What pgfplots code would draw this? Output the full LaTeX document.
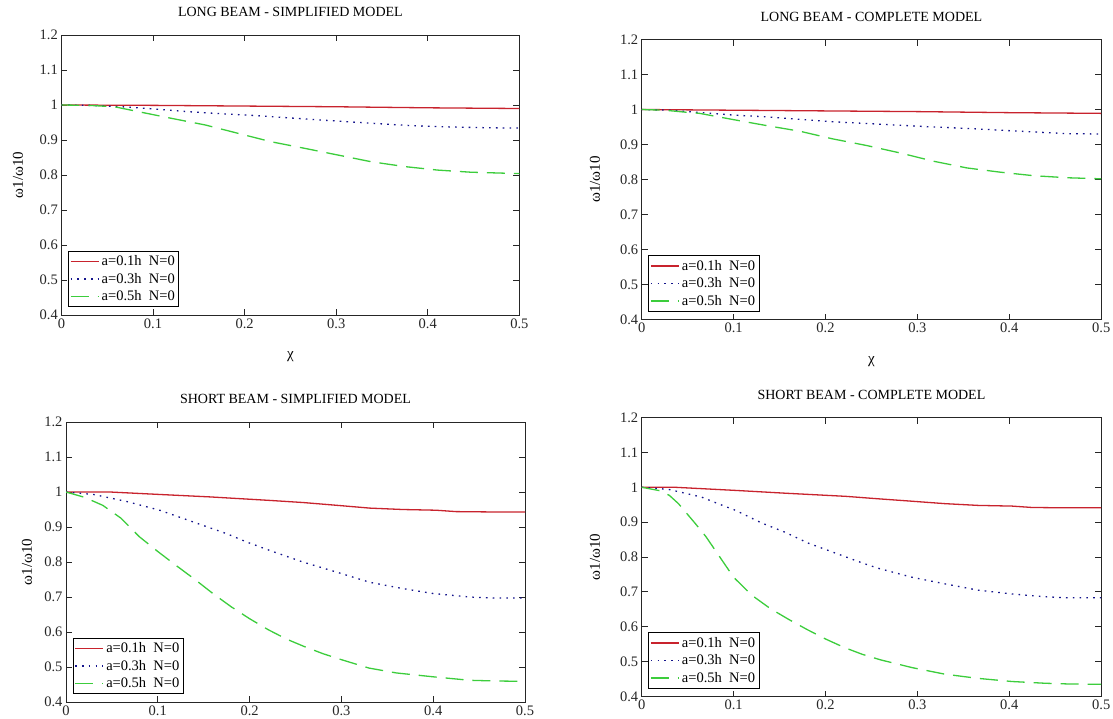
\documentclass[border=0pt]{standalone}
\usepackage{fontspec}
\setmainfont{Liberation Serif}
\usepackage{pgfplots}
\pgfplotsset{compat=1.18}
\definecolor{cred}{RGB}{200,35,45}
\definecolor{cblue}{RGB}{20,20,140}
\definecolor{cgreen}{RGB}{60,205,60}
\newcommand{\myfs}{\fontsize{14.5}{16}\selectfont}
\newcommand{\mytfs}{\fontsize{14}{16}\selectfont}
\newcommand{\mylfs}{\fontsize{15}{17}\selectfont}
\pgfplotsset{
  beam/.style={
    scale only axis, xmin=0, xmax=0.5, ymin=0.4, ymax=1.2,
    xtick={0,0.1,0.2,0.3,0.4,0.5},
    ytick={0.4,0.5,0.6,0.7,0.8,0.9,1,1.1,1.2},
    tick align=inside, major tick length=6pt,
    axis line style={line width=1pt, color=black!85},
    every tick/.style={line width=1pt, black!85},
    /pgf/number format/assume math mode=true,
    tick label style={font=\myfs, text=black!85},
    title style={at={(0.5,1)}, anchor=center, yshift=17pt, font=\mytfs},
    ylabel={ω1/ω10},
    legend style={at={(0,0)}, anchor=south west, xshift=6.5pt, yshift=7.7pt,
      draw=black, line width=0.9pt, font=\myfs, inner sep=1.5pt,
      nodes={inner xsep=2.5pt, inner ysep=3pt}, cells={anchor=west}},
    legend image code/.code={\draw[##1] (0pt,0pt) -- (28pt,0pt);},
  },
  xlab/.style={xlabel={χ}, xlabel style={at={(axis description cs:0.5,-0.15)}, anchor=center, font=\mylfs}},
  sred/.style={cred, line width=1.3pt},
  sblue/.style={cblue, line width=1.3pt, dash pattern=on 1.6pt off 5.2pt},
  sgreen/.style={cgreen, line width=1.3pt, dash pattern=on 18pt off 9pt},
}
\begin{document}
\begin{tikzpicture}
\useasboundingbox (0pt,0pt) rectangle (1113pt,-718pt);
\clip (0pt,0pt) rectangle (1113pt,-718pt);
% ---------- Panel 1 ----------
\begin{axis}[beam, xlab, width=458pt, height=280pt, at={(61.4pt,-315pt)}, anchor=south west,
  ylabel style={at={(axis description cs:-0.095,0.5)}, anchor=center, font=\mylfs},
  title={LONG BEAM - SIMPLIFIED MODEL}]
\addplot[sred] coordinates {(0,1.000)(0.1,0.999)(0.2,0.997)(0.3,0.995)(0.4,0.992)(0.5,0.990)};
\addplot[sblue] coordinates {(0,1.000)(0.03,0.999)(0.066,0.995)(0.1,0.989)(0.138,0.981)(0.175,0.975)(0.211,0.970)(0.25,0.963)(0.284,0.957)(0.32,0.951)(0.356,0.945)(0.39,0.940)(0.429,0.937)(0.466,0.935)(0.5,0.934)};
\addplot[sgreen] coordinates {(0,1.000)(0.03,0.999)(0.058,0.995)(0.084,0.981)(0.12,0.962)(0.157,0.943)(0.193,0.919)(0.229,0.895)(0.266,0.876)(0.302,0.857)(0.338,0.838)(0.375,0.824)(0.411,0.814)(0.447,0.808)(0.5,0.804)};
\legend{a=0.1h\ \ N=0, a=0.3h\ \ N=0, a=0.5h\ \ N=0}
\end{axis}
% ---------- Panel 2 ----------
\begin{axis}[beam, xlab, width=459.5pt, height=280pt, at={(641.7pt,-319.5pt)}, anchor=south west,
  ylabel style={at={(axis description cs:-0.1016,0.5)}, anchor=center, font=\mylfs},
  title={LONG BEAM - COMPLETE MODEL}]
\addplot[sred] coordinates {(0,1.000)(0.1,0.998)(0.2,0.996)(0.3,0.994)(0.4,0.991)(0.5,0.989)};
\addplot[sblue] coordinates {(0,1.000)(0.03,0.998)(0.056,0.993)(0.1,0.984)(0.136,0.979)(0.172,0.972)(0.208,0.965)(0.245,0.960)(0.281,0.955)(0.318,0.950)(0.354,0.946)(0.39,0.941)(0.426,0.936)(0.463,0.931)(0.5,0.930)};
\addplot[sgreen] coordinates {(0,1.000)(0.025,0.998)(0.045,0.993)(0.063,0.989)(0.1,0.971)(0.136,0.954)(0.172,0.938)(0.208,0.916)(0.245,0.897)(0.281,0.876)(0.318,0.852)(0.354,0.833)(0.39,0.821)(0.426,0.811)(0.463,0.805)(0.5,0.802)};
\legend{a=0.1h\ \ N=0, a=0.3h\ \ N=0, a=0.5h\ \ N=0}
\end{axis}
% ---------- Panel 3 ----------
\begin{axis}[beam, width=459pt, height=280pt, at={(66pt,-702pt)}, anchor=south west,
  ylabel style={at={(axis description cs:-0.085,0.5)}, anchor=center, font=\mylfs},
  title={SHORT BEAM - SIMPLIFIED MODEL}]
\addplot[sred] coordinates {(0,1.000)(0.048,1.000)(0.102,0.993)(0.157,0.986)(0.222,0.976)(0.258,0.970)(0.295,0.962)(0.331,0.954)(0.367,0.950)(0.403,0.948)(0.425,0.944)(0.465,0.943)(0.5,0.943)};
\addplot[sblue] coordinates {(0,1.000)(0.03,0.993)(0.066,0.973)(0.102,0.948)(0.139,0.914)(0.175,0.881)(0.197,0.857)(0.222,0.833)(0.258,0.800)(0.295,0.771)(0.331,0.742)(0.367,0.724)(0.4,0.710)(0.44,0.700)(0.465,0.697)(0.5,0.697)};
\addplot[sgreen] coordinates {(0,1.000)(0.02,0.985)(0.04,0.962)(0.06,0.925)(0.08,0.872)(0.1,0.830)(0.12,0.790)(0.14,0.751)(0.16,0.710)(0.18,0.672)(0.2,0.638)(0.22,0.607)(0.24,0.580)(0.26,0.558)(0.28,0.538)(0.3,0.521)(0.33,0.497)(0.36,0.483)(0.4,0.472)(0.44,0.462)(0.47,0.460)(0.5,0.459)};
\legend{a=0.1h\ \ N=0, a=0.3h\ \ N=0, a=0.5h\ \ N=0}
\end{axis}
% ---------- Panel 4 ----------
\begin{axis}[beam, width=459.5pt, height=279pt, at={(641.7pt,-696.5pt)}, anchor=south west,
  ylabel style={at={(axis description cs:-0.1016,0.5)}, anchor=center, font=\mylfs},
  title={SHORT BEAM - COMPLETE MODEL}]
\addplot[sred] coordinates {(0,1.000)(0.036,1.000)(0.102,0.991)(0.156,0.983)(0.222,0.974)(0.257,0.967)(0.294,0.960)(0.33,0.953)(0.366,0.948)(0.403,0.946)(0.425,0.942)(0.464,0.941)(0.5,0.941)};
\addplot[sblue] coordinates {(0,1.000)(0.029,0.994)(0.065,0.972)(0.083,0.953)(0.102,0.934)(0.131,0.897)(0.156,0.871)(0.181,0.840)(0.21,0.812)(0.24,0.783)(0.257,0.768)(0.294,0.742)(0.33,0.723)(0.366,0.705)(0.403,0.694)(0.439,0.686)(0.464,0.683)(0.5,0.683)};
\addplot[sgreen] coordinates {(0,1.000)(0.02,0.990)(0.03,0.977)(0.04,0.953)(0.058,0.897)(0.07,0.858)(0.085,0.800)(0.1,0.742)(0.12,0.690)(0.14,0.652)(0.16,0.621)(0.18,0.592)(0.2,0.565)(0.22,0.541)(0.24,0.521)(0.26,0.505)(0.294,0.483)(0.33,0.464)(0.366,0.452)(0.403,0.443)(0.439,0.438)(0.464,0.436)(0.5,0.435)};
\legend{a=0.1h\ \ N=0, a=0.3h\ \ N=0, a=0.5h\ \ N=0}
\end{axis}
\end{tikzpicture}
\end{document}
